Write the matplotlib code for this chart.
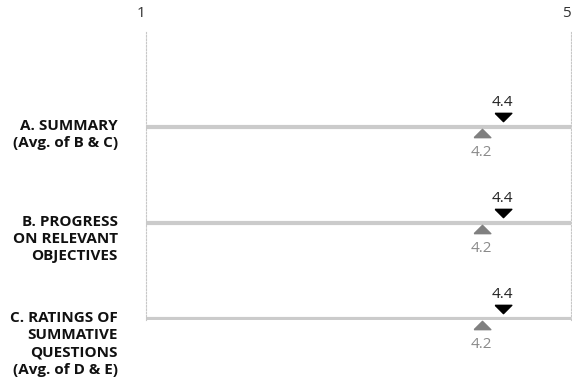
import matplotlib.pyplot as plt
from matplotlib import transforms

plt.rcParams['font.family'] = ['Open Sans', 'DejaVu Sans']

# data
row_labels = ['A. SUMMARY\n(Avg. of B & C)',
              'B. PROGRESS\nON RELEVANT\nOBJECTIVES',
              'C. RATINGS OF\nSUMMATIVE\nQUESTIONS\n(Avg. of D & E)']
rows = [1, 2, 3]
your_score = [4.4, 4.4, 4.4]
comparison = [4.2, 4.2, 4.2]
scale_ticks = [1, 5]

W, H = 572, 387
fig = plt.figure(figsize=(W / 100, H / 100), dpi=100)

# axes in pixel units: x 146..571, y 32..320 from top
ax = fig.add_axes([146 / W, 1 - 320 / H, 425 / W, 288 / H])
px_per_unit = 106.25
off = 4.5 / px_per_unit
ax.set_xlim(1 + off, 5 + off)
ax.set_ylim(3 + 1.5 / 96, 1 - 94.5 / 96)

for s in ['top', 'bottom']:
    ax.spines[s].set_visible(False)
for s in ['left', 'right']:
    ax.spines[s].set_linestyle((0, (1.5, 1.5)))
    ax.spines[s].set_color('#c8c8c8')
    ax.spines[s].set_linewidth(0.8)
ax.set_xticks([])
ax.set_yticks([])

# bands
for r in rows:
    ax.axhline(r, color='#cbcbcb', linewidth=3, zorder=1)

tri_down = [(-1, 0.5), (1, 0.5), (0, -0.5), (-1, 0.5)]
tri_up = [(-1, -0.5), (1, -0.5), (0, 0.5), (-1, -0.5)]

up_tr = transforms.offset_copy(ax.transData, fig=fig, x=0, y=6.5, units='points')
dn_tr = transforms.offset_copy(ax.transData, fig=fig, x=0, y=-5, units='points')

ax.plot(your_score, rows, linestyle='none', marker=tri_down, markersize=12,
        color='black', transform=up_tr, clip_on=False, zorder=3)
ax.plot(comparison, rows, linestyle='none', marker=tri_up, markersize=12,
        color='#808080', transform=dn_tr, clip_on=False, zorder=3)

for r, v in zip(rows, your_score):
    ax.annotate(f'{v:.1f}', (v, r), xytext=(0, 17.5), textcoords='offset points',
                ha='center', va='center', fontsize=11, color='#222222')
for r, v in zip(rows, comparison):
    ax.annotate(f'{v:.1f}', (v, r), xytext=(0, -18.5), textcoords='offset points',
                ha='center', va='center', fontsize=11, color='#8a8a8a')

# scale labels at top
tick_tr = transforms.blended_transform_factory(ax.transData, fig.transFigure)
for t in scale_ticks:
    ax.text(t, 1 - 17 / H, str(t), transform=tick_tr, ha='center', va='baseline',
            fontsize=11, color='#333333', clip_on=False)

# row labels
lab_tr = transforms.blended_transform_factory(fig.transFigure, ax.transData)
lab_off = transforms.offset_copy(lab_tr, fig=fig, x=0, y=5.5, units='points')
for r, lab in zip(rows, row_labels):
    ax.text(118 / W, r, lab, transform=lab_off, ha='right', va='top',
            fontsize=11, fontweight='bold', color='#111111',
            linespacing=1.3, clip_on=False)

fig.savefig('out.png', dpi=100)
